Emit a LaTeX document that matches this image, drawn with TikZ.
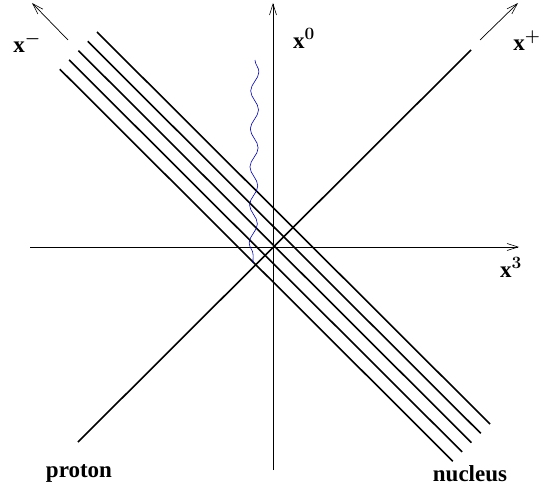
\documentclass[tikz,border=0pt]{standalone}
\usepackage{fontspec}
\setmainfont{Liberation Serif}
\usetikzlibrary{arrows.meta,decorations.pathmorphing,calc}
\tikzset{
  lbl/.style={font=\fontsize{23}{26}\selectfont\bfseries\boldmath, inner sep=0pt},
  axis/.style={line width=0.7pt, -{Straight Barb[length=11pt,width=7pt,line width=0.6pt]}},
  beam/.style={line width=1.6pt},
  gluon/.style={blue!70!black, line width=0.6pt, decorate, decoration={snake, amplitude=4pt, segment length=38pt}}
}
\begin{document}
\begin{tikzpicture}[x=1pt,y=-1pt]
\useasboundingbox (0,0) rectangle (556,492);
\coordinate (o) at (273,247);
\coordinate (x3a) at (30,247);
\coordinate (x3b) at (519,247);
\coordinate (x0a) at (273,470);
\coordinate (x0b) at (273,3);
\coordinate (pa) at (78,442);
\coordinate (pb) at (471,50);
\coordinate (xpa) at (480,40);
\coordinate (xpb) at (518,3);
\coordinate (xma) at (68,40);
\coordinate (xmb) at (32,3);
\coordinate (ga) at (255,60);
\coordinate (gb) at (253,263);
\node[lbl] (xm) at (27,43) {x$^{-}$};
\node[lbl] (xp) at (527,41) {x$^{+}$};
\node[lbl] (x0) at (304,38) {x$^{0}$};
\node[lbl] (x3) at (511,267) {x$^{3}$};
\node[lbl] (proton) at (79,473) {proton};
\node[lbl] (nucleus) at (470,474) {nucleus};
% axes
\draw[axis] (x3a) -- (x3b);
\draw[axis] (x0a) -- (x0b);
\draw[axis] (xpa) -- (xpb);
\draw[axis] (xma) -- (xmb);
% proton
\draw[beam] (pa) -- (pb);
% nucleus
\foreach \k in {0,...,4}
  \draw[beam] ($(97,32)+\k*(-9.3,9.3)$) -- ($(490,424)+\k*(-9.3,9.3)$);
% exchanged gluon
\draw[gluon] (ga) -- (gb);
\end{tikzpicture}
\end{document}
